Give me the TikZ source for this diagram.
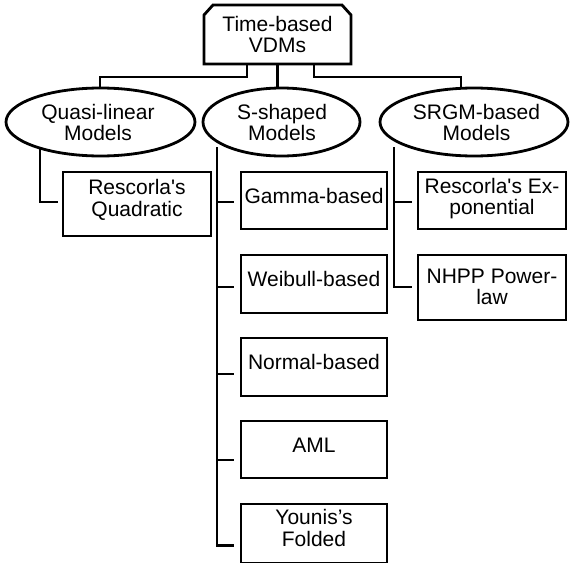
\documentclass[tikz,border=0pt]{standalone}
\usepackage{fontspec}
\setmainfont{Liberation Sans}[Ligatures=TeXOff]
\usetikzlibrary{shapes.geometric}
\begin{document}
\begin{tikzpicture}[x=1pt,y=1pt,line width=2.8pt,
  every node/.style={font=\fontsize{21}{22}\selectfont},
  ell/.style={ellipse,draw,outer sep=0pt,inner sep=0pt,minimum height=68pt},
  boxnode/.style={rectangle,draw,outer sep=0pt,inner sep=0pt},
  txt/.style={anchor=base,inner sep=0pt,outer sep=0pt},
  conn/.style={line join=miter}]
\useasboundingbox (0,0) rectangle (570,-562);
% top node
\node[rectangle,outer sep=0pt,inner sep=0pt,minimum width=147pt,minimum height=59pt] (top) at (277.5,-34.5) {};
\draw[line join=miter] (top.south west) -- ([yshift=-10pt]top.north west) -- ([xshift=9pt]top.north west)
  -- ([xshift=-9pt]top.north east) -- ([yshift=-10pt]top.north east) -- (top.south east) -- cycle;
\node[txt] (t1) at (277.5,-31) {Time-based};
\node[txt] (t2) at (277.5,-52) {VDMs};
% ellipses
\node[ell,minimum width=189pt] (quasi) at (100.5,-122) {};
\node[txt] (q1) at (98,-119) {Quasi-linear};
\node[txt] (q2) at (98,-140) {Models};
\node[ell,minimum width=157pt] (sshape) at (281.5,-122) {};
\node[txt] (s1) at (282,-119) {S-shaped};
\node[txt] (s2) at (282,-140) {Models};
\node[ell,minimum width=188pt] (srgm) at (474,-122) {};
\node[txt] (r1) at (476.5,-119) {SRGM-based};
\node[txt] (r2) at (476.5,-140) {Models};
% boxes
\node[boxnode,minimum width=148pt,minimum height=64pt] (quad) at (137,-204) {};
\node[txt] (quad1) at (137,-194) {Rescorla's};
\node[txt] (quad2) at (137,-216) {Quadratic};
\node[boxnode,minimum width=146pt,minimum height=57pt] (gamma) at (314,-200.5) {};
\node[txt] (gamma1) at (314,-203) {Gamma-based};
\node[boxnode,minimum width=146pt,minimum height=58pt] (weibull) at (314,-284) {};
\node[txt] (weibull1) at (314,-286.5) {Weibull-based};
\node[boxnode,minimum width=146pt,minimum height=58pt] (normal) at (314,-367) {};
\node[txt] (normal1) at (314,-369.5) {Normal-based};
\node[boxnode,minimum width=146pt,minimum height=57pt] (aml) at (314,-449.5) {};
\node[txt] (aml1) at (314,-452) {AML};
\node[boxnode,minimum width=146pt,minimum height=59pt] (younis) at (314,-533.5) {};
\node[txt] (younis1) at (314,-524) {Younis’s};
\node[txt] (younis2) at (314,-546) {Folded};
\node[boxnode,minimum width=148pt,minimum height=57pt] (expo) at (492,-200.5) {};
\node[txt] (expo1) at (492,-193) {Rescorla's Ex-};
\node[txt] (expo2) at (492,-214.5) {ponential};
\node[boxnode,minimum width=148pt,minimum height=65pt] (nhpp) at (492,-287.5) {};
\node[txt] (nhpp1) at (492,-283) {NHPP Power-};
\node[txt] (nhpp2) at (492,-304) {law};
% top connectors
\draw[conn] ([xshift=-30.5pt]top.south) -- ++(0,-13) -| ([xshift=-0.5pt]quasi.north);
\draw[conn] (top.south) -- (top.south |- sshape.north);
\draw[conn] ([xshift=36.5pt]top.south) -- ++(0,-13) -| ([xshift=-13pt]srgm.north);
% stems
\coordinate (qstem) at (40,-149);
\coordinate (sstem) at (217,-147);
\coordinate (rstem) at (394,-147);
\draw[conn] (qstem) |- ([xshift=-5pt,yshift=2pt]quad.west);
\draw[conn] (sstem) |- ([xshift=-7pt,yshift=-1.5pt]gamma.west);
\draw[conn] (sstem) |- ([xshift=-7pt,yshift=-3pt]weibull.west);
\draw[conn] (sstem) |- ([xshift=-7pt,yshift=-7pt]normal.west);
\draw[conn] (sstem) |- ([xshift=-7pt,yshift=-10.5pt]aml.west);
\draw[conn] (sstem) |- ([xshift=-7pt,yshift=-12pt]younis.west);
\draw[conn] (rstem) |- ([xshift=-6pt,yshift=-1.5pt]expo.west);
\draw[conn] (rstem) |- ([xshift=-6pt,yshift=0.5pt]nhpp.west);
\end{tikzpicture}
\end{document}
